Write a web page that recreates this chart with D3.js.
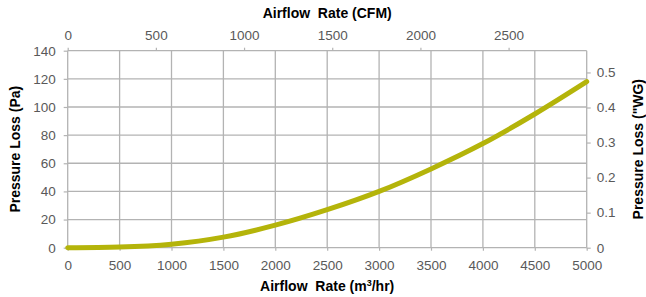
<!DOCTYPE html>
<html>
<head>
<meta charset="utf-8">
<script src="https://cdn.jsdelivr.net/npm/d3@7"></script>
<style>
  body { margin: 0; background: #fff; }
  svg { display: block; font-family: "Liberation Sans", Arial, sans-serif; }
</style>
</head>
<body>
<svg id="chart" width="646" height="297"></svg>
<script>
// airflow (m3/hr) vs pressure loss (Pa)
const flowM3h = [0, 500, 1000, 1500, 2000, 2500, 3000, 3500, 4000, 4500, 5000];
const lossPa = [0, 0.5, 2.5, 7.5, 16, 27, 40, 56, 74, 95, 118];

const bottomTicks = [0, 500, 1000, 1500, 2000, 2500, 3000, 3500, 4000, 4500, 5000];
const leftTicks = [0, 20, 40, 60, 80, 100, 120, 140];
const topTicks = [0, 500, 1000, 1500, 2000, 2500];
const rightTicks = [0, 0.1, 0.2, 0.3, 0.4, 0.5];

const M3H_TO_CFM = 0.588578;
const PA_PER_INWG = 249.089;

const width = 646;
const height = 297;
const margin = { top: 50.7, right: 59.3, bottom: 49.3, left: 67.7 };

const svg = d3.select("#chart");

const x = d3.scaleLinear().domain([0, 5000]).range([margin.left, width - margin.right]);
const y = d3.scaleLinear().domain([0, 140]).range([height - margin.bottom, margin.top]);
const xTop = d3.scaleLinear().domain([0, 5000 * M3H_TO_CFM]).range(x.range());
const yRight = d3.scaleLinear().domain([0, 140 / PA_PER_INWG]).range(y.range());

const gridColor = "#b3b3b3";
const labelColor = "#595959";
const plain = d3.format("d");

// grid
svg.append("g")
  .selectAll("line")
  .data(leftTicks)
  .join("line")
  .attr("x1", margin.left)
  .attr("x2", width - margin.right)
  .attr("y1", (d) => y(d))
  .attr("y2", (d) => y(d))
  .attr("stroke", gridColor)
  .attr("stroke-width", 1.3);

svg.append("g")
  .selectAll("line")
  .data(bottomTicks)
  .join("line")
  .attr("x1", (d) => x(d))
  .attr("x2", (d) => x(d))
  .attr("y1", margin.top)
  .attr("y2", height - margin.bottom)
  .attr("stroke", gridColor)
  .attr("stroke-width", 1.3);

function styleAxis(g) {
  g.select(".domain").remove();
  g.selectAll(".tick line").attr("stroke", gridColor).attr("stroke-width", 1.2);
  g.selectAll(".tick text")
    .attr("fill", labelColor)
    .style("font-size", "13.5px");
}

svg.append("g")
  .attr("transform", `translate(0,${height - margin.bottom})`)
  .call(d3.axisBottom(x).tickValues(bottomTicks).tickFormat(plain).tickSize(3).tickPadding(10))
  .call(styleAxis);

svg.append("g")
  .attr("transform", `translate(${margin.left},0)`)
  .call(d3.axisLeft(y).tickValues(leftTicks).tickFormat(plain).tickSize(4).tickPadding(8))
  .call(styleAxis);

svg.append("g")
  .attr("transform", `translate(0,${margin.top})`)
  .call(d3.axisTop(xTop).tickValues(topTicks).tickFormat(plain).tickSize(3).tickPadding(8))
  .call(styleAxis);

svg.append("g")
  .attr("transform", `translate(${width - margin.right},0)`)
  .call(d3.axisRight(yRight).tickValues(rightTicks).tickSize(4).tickPadding(6)
    .tickFormat((d) => (d === 0 ? "0" : d3.format(".1f")(d))))
  .call(styleAxis);

// curve
const line = d3
  .line()
  .x((d, i) => x(flowM3h[i]))
  .y((d) => y(d))
  .curve(d3.curveMonotoneX);

svg.append("path")
  .attr("d", line(lossPa))
  .attr("fill", "none")
  .attr("stroke", "#b4b40a")
  .attr("stroke-width", 5)
  .attr("stroke-linecap", "round");

// titles
const midX = (margin.left + width - margin.right) / 2;
const midY = (margin.top + height - margin.bottom) / 2;

svg.append("text")
  .attr("x", midX)
  .attr("y", 17.5)
  .attr("text-anchor", "middle")
  .style("font-size", "14px")
  .style("font-weight", "bold")
  .style("white-space", "pre")
  .text("Airflow  Rate (CFM)");

const bottomTitle = svg.append("text")
  .attr("x", midX)
  .attr("y", 291)
  .attr("text-anchor", "middle")
  .style("font-size", "14px")
  .style("font-weight", "bold")
  .style("white-space", "pre");
bottomTitle.append("tspan").text("Airflow  Rate (m");
bottomTitle.append("tspan").attr("dy", -5).style("font-size", "9px").text("3");
bottomTitle.append("tspan").attr("dy", 5).text("/hr)");

svg.append("text")
  .attr("transform", `translate(20,${midY}) rotate(-90)`)
  .attr("text-anchor", "middle")
  .style("font-size", "14px")
  .style("font-weight", "bold")
  .text("Pressure Loss (Pa)");

svg.append("text")
  .attr("transform", `translate(643,${midY}) rotate(-90)`)
  .attr("text-anchor", "middle")
  .style("font-size", "14px")
  .style("font-weight", "bold")
  .text("Pressure Loss (\"WG)");
</script>
</body>
</html>
